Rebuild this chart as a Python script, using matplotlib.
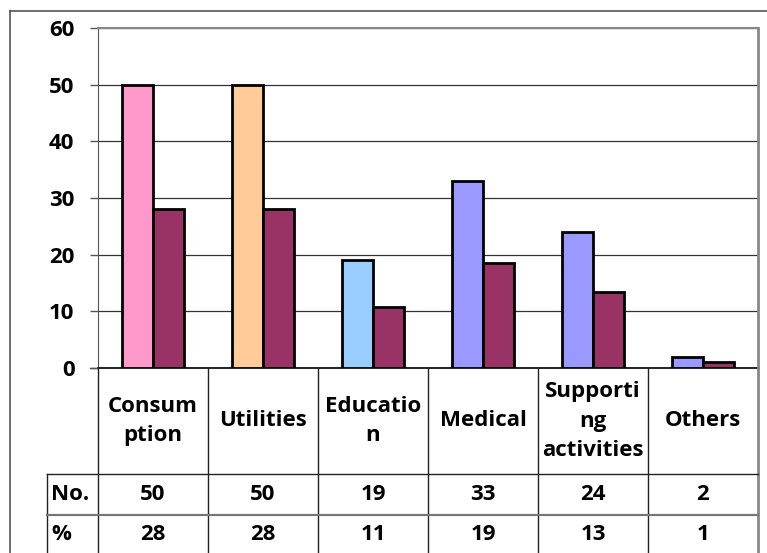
import matplotlib
matplotlib.use("Agg")
import matplotlib.pyplot as plt
from matplotlib.lines import Line2D
import numpy as np

categories = ["Consum\nption", "Utilities", "Educatio\nn", "Medical", "Supporti\nng\nactivities", "Others"]
no_values = [50, 50, 19, 33, 24, 2]
pct_values = [28.1, 28.1, 10.7, 18.5, 13.5, 1.1]
pct_labels = [28, 28, 11, 19, 13, 1]
row_labels = ["No.", "%"]
yticks = [0, 10, 20, 30, 40, 50, 60]

no_colors = ["#FF99CC", "#FFCC99", "#99CCFF", "#9999FF", "#9999FF", "#9999FF"]
pct_color = "#993366"

FONT = "Open Sans"
FS = 16
W, H = 767, 553
fig = plt.figure(figsize=(W / 100, H / 100), dpi=100)

def fx(px):
    return px / W

def fy(py):
    return 1 - py / H

L, R, T, B = 98, 758, 28, 368
ax = fig.add_axes([fx(L), fy(B), fx(R) - fx(L), fy(T) - fy(B)])

x = np.arange(len(categories))
w = 0.285
ax.bar(x - w / 2, no_values, w, color=no_colors, edgecolor="black", linewidth=2, zorder=3)
ax.bar(x + w / 2, pct_values, w, color=pct_color, edgecolor="black", linewidth=2, zorder=3)

ax.set_xlim(-0.5, len(categories) - 0.5)
ax.set_ylim(0, 60)
ax.set_yticks(yticks)
ax.set_yticklabels([str(v) for v in yticks], fontfamily=FONT, fontweight="bold", fontsize=FS)
ax.tick_params(axis="y", length=6, width=1, color="#555555", pad=11)
ax.set_xticks([])
ax.yaxis.grid(True, color="#333333", linewidth=0.9, zorder=0)
ax.set_axisbelow(True)
ax.spines["top"].set_color("#888888")
ax.spines["top"].set_linewidth(1.5)
ax.spines["right"].set_color("#888888")
ax.spines["right"].set_linewidth(2)
ax.spines["left"].set_color("#555555")
ax.spines["bottom"].set_color("#000000")
ax.spines["bottom"].set_linewidth(1.2)

# outer frame (cut off at right / bottom)
fig.add_artist(Line2D([fx(10), fx(767)], [fy(11), fy(11)], color="#555555", lw=1.2))
fig.add_artist(Line2D([fx(10), fx(10)], [fy(11), fy(553)], color="#555555", lw=1.2))

# x-axis extension to the tick area
fig.add_artist(Line2D([fx(90), fx(L)], [fy(B), fy(B)], color="#555555", lw=1))

# table
col_w = (R - L) / len(categories)
col_edges = [L + i * col_w for i in range(len(categories) + 1)]
for i, cx in enumerate(col_edges):
    col = "#888888" if i == len(categories) else "#222222"
    lw = 2 if i == len(categories) else 1
    fig.add_artist(Line2D([fx(cx), fx(cx)], [fy(B), fy(553)], color=col, lw=lw))
fig.add_artist(Line2D([fx(47), fx(47)], [fy(474), fy(553)], color="#222222", lw=1))
fig.add_artist(Line2D([fx(47), fx(R)], [fy(474), fy(474)], color="#222222", lw=1))
fig.add_artist(Line2D([fx(47), fx(R)], [fy(515), fy(515)], color="#777777", lw=1.6))

tkw = dict(fontfamily=FONT, fontweight="bold", fontsize=FS, color="black")
for i, cat in enumerate(categories):
    cx = L + (i + 0.5) * col_w
    fig.text(fx(cx), fy((B + 474) / 2), cat, ha="center", va="center", linespacing=1.55, **tkw)
    fig.text(fx(cx), fy(494), str(no_values[i]), ha="center", va="center", **tkw)
    fig.text(fx(cx), fy(535), str(pct_labels[i]), ha="center", va="center", **tkw)
fig.text(fx(51), fy(494), row_labels[0], ha="left", va="center", **tkw)
fig.text(fx(51), fy(535), row_labels[1], ha="left", va="center", **tkw)

fig.savefig("out.png", dpi=100)
